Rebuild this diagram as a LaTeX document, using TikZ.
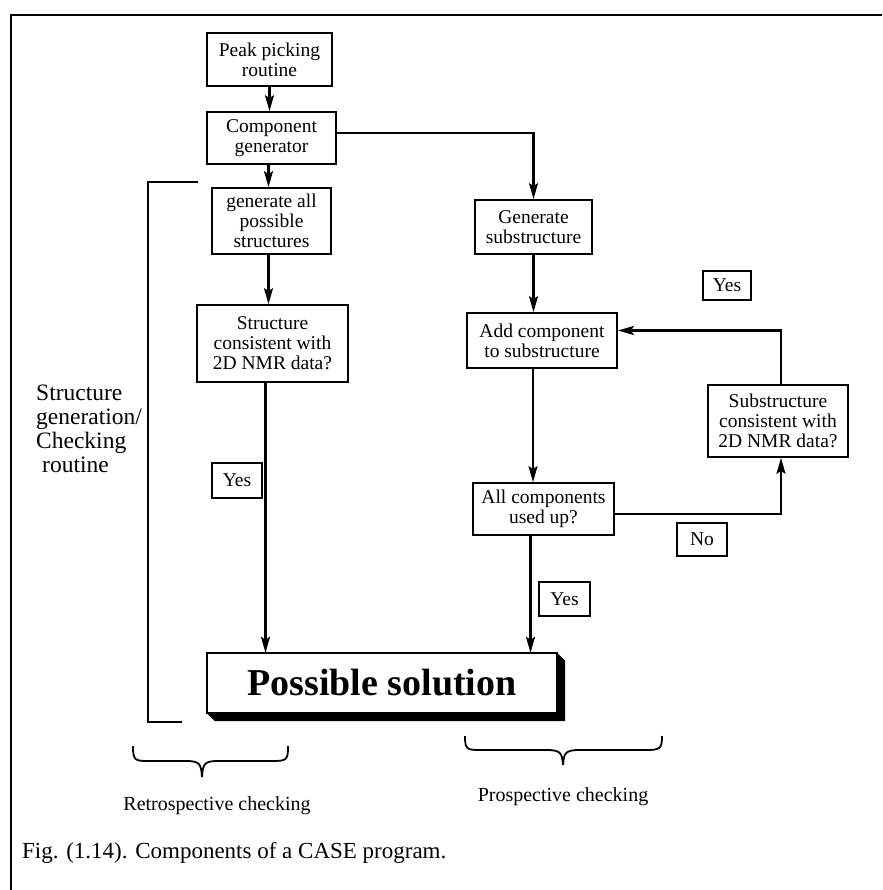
\documentclass[tikz,border=0pt]{standalone}
\usepackage{fontspec}
\setmainfont{Liberation Serif}
\usetikzlibrary{arrows.meta,calc}

\tikzset{
  box/.style={draw, line width=1.7pt, align=center, inner sep=0pt,
    font=\fontsize{19.5}{20}\selectfont},
  arr/.style={line width=2.3pt, -{Stealth[length=16pt,width=9pt,inset=3pt]}},
  plain/.style={line width=2.3pt},
  brace/.style={line width=1.8pt},
  label/.style={inner sep=0pt, font=\fontsize{20}{22}\selectfont},
}

\begin{document}
\begin{tikzpicture}[x=1pt,y=-1pt]
\useasboundingbox (0,0) rectangle (882,890);

% open frame (top and left edges)
\draw[line width=2.2pt] (11,890) -- (11,15) -- (882,15);

% left column
\node[box, minimum width=125pt, minimum height=53pt] (peak) at (269.5,59.5) {Peak picking\\routine};
\node[box, minimum width=129pt, minimum height=52pt] (compgen) at (271.5,138) {Component\\generator};
\node[box, minimum width=119pt, minimum height=66pt] (genall) at (271.5,221) {generate all\\possible\\structures};
\node[box, minimum width=151pt, minimum height=77pt] (strcons) at (272.5,343.5) {Structure\\consistent with\\2D NMR data?};
\node[box, minimum width=50pt, minimum height=35pt] (yesA) at (237,480.5) {Yes};

% right column
\node[box, minimum width=117pt, minimum height=54pt] (gensub) at (533.5,227) {Generate\\substructure};
\node[box, minimum width=150pt, minimum height=55pt] (addcomp) at (542,340.5) {Add component\\to substructure};
\node[box, minimum width=48pt, minimum height=29pt] (yesB) at (727,285.5) {Yes};
\node[box, minimum width=140pt, minimum height=72pt] (subcons) at (778,421) {Substructure\\consistent with\\2D NMR data?};
\node[box, minimum width=141pt, minimum height=52pt] (allcomp) at (543.5,509) {All components\\used up?};
\node[box, minimum width=50pt, minimum height=33pt] (no) at (702,539.5) {No};
\node[box, minimum width=51pt, minimum height=34pt] (yesC) at (564.5,599) {Yes};

% result box with bevelled drop shadow
\node[minimum width=350pt, minimum height=60pt, inner sep=0pt] (sol) at (382,683) {};
\fill ($(sol.north east)$) -- ($(sol.north east)+(8,8)$) -- ($(sol.south east)+(8,8)$)
      -- ($(sol.south west)+(8,8)$) -- (sol.south west) -- cycle;
\node[draw, fill=white, line width=1.7pt, minimum width=350pt, minimum height=60pt,
      inner sep=0pt, font=\fontsize{38}{40}\selectfont\bfseries] at (sol) {Possible solution};

% connectors
\draw[arr] (peak.south) -- (peak.south |- compgen.north);
\draw[arr] ([xshift=-3pt]compgen.south) -- ([xshift=-3pt]compgen.south |- genall.north);
\draw[arr] ([yshift=5pt]compgen.east) -| (gensub.north);
\draw[arr] ([xshift=-3pt]genall.south) -- ([xshift=-3pt]genall.south |- strcons.north);
\draw[arr] ([xshift=-7pt]strcons.south) -- ([xshift=-7pt]strcons.south |- sol.north);
\draw[arr] (gensub.south) -- (gensub.south |- addcomp.north);
\draw[arr] ([xshift=-9pt]addcomp.south) -- ([xshift=-9pt]addcomp.south |- allcomp.north);
\draw[arr] ([xshift=-13pt]allcomp.south) -- ([xshift=-13pt]allcomp.south |- sol.north);
\draw[arr] ([yshift=-5pt]allcomp.east) -| ([xshift=3pt]subcons.south);
\draw[arr] ([xshift=3pt]subcons.north) |- ([yshift=10pt]addcomp.east);

% bracket for the structure generation / checking routine
\coordinate (brtop) at (198,182);
\coordinate (brbot) at (182,722);
\draw[plain] (brtop) -- (148,182) -- (148,722) -- (brbot);
\node[inner sep=0pt, anchor=north west, align=left,
      font=\fontsize{23.5}{24}\selectfont] (routine) at (36,385)
  {Structure\\generation/\\Checking\\\hspace*{6pt}routine};

% braces
\draw[brace] (133,746) .. controls (133,761) and (135,761) .. (150,761) -- (186,761)
  .. controls (200,761) and (201,764) .. (202,777)
  .. controls (203,764) and (204,761) .. (218,761) -- (272,761)
  .. controls (287,761) and (288,760) .. (288,746);
\draw[brace] (465,736) .. controls (465,750) and (467,750) .. (482,750) -- (546,750)
  .. controls (561,750) and (562,753) .. (563,765)
  .. controls (564,753) and (565,750) .. (580,750) -- (645,750)
  .. controls (660,750) and (662,749) .. (662,736);

\node[label] (retro) at (217,806) {Retrospective checking};
\node[label] (prosp) at (563,797) {Prospective checking};

% caption
\node[inner sep=0pt, anchor=west, font=\fontsize{23}{25}\selectfont] (caption) at (22,853)
  {Fig. (1.14). Components of a CASE program.};
\end{tikzpicture}
\end{document}
